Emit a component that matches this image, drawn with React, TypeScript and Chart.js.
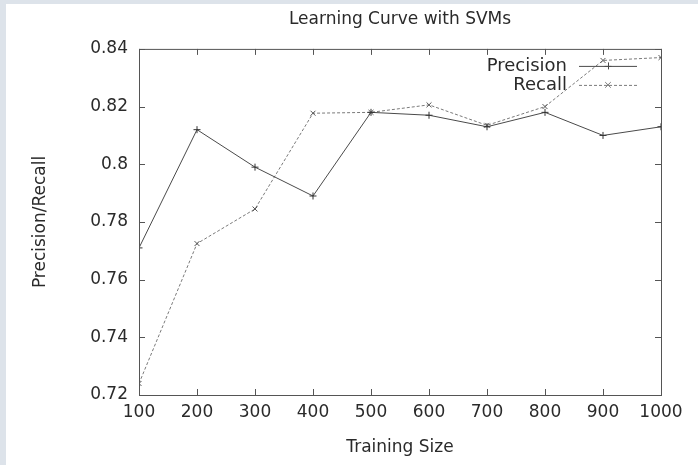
import React, { useEffect, useRef } from "react";
import { Chart, registerables } from "chart.js";

Chart.register(...registerables);

const trainingSizes = [100, 200, 300, 400, 500, 600, 700, 800, 900, 1000];
const precisionValues = [0.771, 0.812, 0.799, 0.789, 0.818, 0.817, 0.813, 0.818, 0.810, 0.813];
const recallValues = [0.724, 0.7725, 0.7845, 0.8177, 0.818, 0.8206, 0.8135, 0.820, 0.836, 0.837];
const yTickValues = [0.72, 0.74, 0.76, 0.78, 0.8, 0.82, 0.84];

const FONT = "'DejaVu Sans', sans-serif";
const TEXT = "#2a2a2a";
const AXIS = "#555";

const frameAndTicks = {
  id: "frameAndTicks",
  afterDatasetsDraw(chart: any) {
    const { ctx, chartArea: a, scales } = chart;
    const xs = scales.x;
    const ys = scales.y;
    ctx.save();
    ctx.strokeStyle = AXIS;
    ctx.lineWidth = 1;
    ctx.strokeRect(a.left + 0.5, a.top + 0.5, a.right - a.left, a.bottom - a.top);
    const len = 6;
    ctx.beginPath();
    trainingSizes.forEach((v) => {
      const px = Math.round(xs.getPixelForValue(v)) + 0.5;
      ctx.moveTo(px, a.bottom);
      ctx.lineTo(px, a.bottom - len);
      ctx.moveTo(px, a.top);
      ctx.lineTo(px, a.top + len);
    });
    yTickValues.forEach((v) => {
      const py = Math.round(ys.getPixelForValue(v)) + 0.5;
      ctx.moveTo(a.left, py);
      ctx.lineTo(a.left + len, py);
      ctx.moveTo(a.right, py);
      ctx.lineTo(a.right - len, py);
    });
    ctx.stroke();

    // gnuplot-style key: text, then sample line with marker
    const items = chart.data.datasets;
    const textRight = a.right - 94;
    const lineStart = a.right - 82;
    const lineEnd = a.right - 24;
    items.forEach((ds: any, i: number) => {
      const y = a.top + 17 + i * 19;
      ctx.font = `18px ${FONT}`;
      ctx.fillStyle = TEXT;
      ctx.textAlign = "right";
      ctx.textBaseline = "middle";
      ctx.fillText(ds.label, textRight, y);
      ctx.strokeStyle = ds.borderColor;
      ctx.lineWidth = 1;
      ctx.setLineDash(ds.borderDash || []);
      ctx.beginPath();
      ctx.moveTo(lineStart, y + 0.5);
      ctx.lineTo(lineEnd, y + 0.5);
      ctx.stroke();
      ctx.setLineDash([]);
      const mx = (lineStart + lineEnd) / 2;
      const r = 3.5;
      ctx.beginPath();
      if (ds.pointStyle === "cross") {
        ctx.moveTo(mx - r, y + 0.5);
        ctx.lineTo(mx + r, y + 0.5);
        ctx.moveTo(mx + 0.5, y - r);
        ctx.lineTo(mx + 0.5, y + r);
      } else {
        ctx.moveTo(mx - r * 0.8, y - r * 0.8);
        ctx.lineTo(mx + r * 0.8, y + r * 0.8);
        ctx.moveTo(mx + r * 0.8, y - r * 0.8);
        ctx.lineTo(mx - r * 0.8, y + r * 0.8);
      }
      ctx.stroke();
    });
    ctx.restore();
  },
};

export default function App() {
  const ref = useRef<HTMLCanvasElement | null>(null);

  useEffect(() => {
    if (!ref.current) return;
    const chart = new Chart(ref.current, {
      type: "line",
      data: {
        datasets: [
          {
            label: "Precision",
            data: trainingSizes.map((x, i) => ({ x, y: precisionValues[i] })),
            borderColor: "#4a4a4a",
            borderWidth: 1,
            pointStyle: "cross",
            pointRadius: 3.5,
            pointBorderColor: "#333",
            pointBorderWidth: 1,
            fill: false,
            tension: 0,
          },
          {
            label: "Recall",
            data: trainingSizes.map((x, i) => ({ x, y: recallValues[i] })),
            borderColor: "#7a7a7a",
            borderWidth: 1,
            borderDash: [3, 2],
            pointStyle: "crossRot",
            pointRadius: 3.5,
            pointBorderColor: "#555",
            pointBorderWidth: 1,
            fill: false,
            tension: 0,
          },
        ],
      },
      options: {
        responsive: false,
        animation: false,
        layout: { padding: { left: 0, right: 37, top: 0, bottom: 0 } },
        plugins: {
          legend: { display: false },
          tooltip: { enabled: false },
          title: {
            display: true,
            text: "Learning Curve with SVMs",
            fullSize: false,
            color: TEXT,
            font: { family: FONT, size: 17, weight: "normal" },
            padding: { top: 5.5, bottom: 19 },
          },
        },
        scales: {
          x: {
            type: "linear",
            min: 100,
            max: 1000,
            grid: { display: false, drawTicks: false },
            border: { display: false },
            afterFit: (s: any) => {
              s.height = 70;
            },
            ticks: {
              stepSize: 100,
              padding: 7,
              color: TEXT,
              font: { family: FONT, size: 17 },
              maxRotation: 0,
              callback: (v: any) => String(v),
            },
            title: {
              display: true,
              text: "Training Size",
              color: TEXT,
              font: { family: FONT, size: 17 },
              padding: { top: 0, bottom: 7.5 },
            },
          },
          y: {
            type: "linear",
            min: 0.72,
            max: 0.84,
            grid: { display: false, drawTicks: false },
            border: { display: false },
            afterFit: (s: any) => {
              s.width = 133;
            },
            afterBuildTicks: (s: any) => {
              s.ticks = yTickValues.map((v) => ({ value: v }));
            },
            ticks: {
              padding: 11,
              color: TEXT,
              font: { family: FONT, size: 17 },
              callback: (v: any) => String(Number(Number(v).toFixed(2))),
            },
            title: {
              display: true,
              text: "Precision/Recall",
              color: TEXT,
              font: { family: FONT, size: 17 },
              padding: { top: 24, bottom: 0 },
            },
          },
        },
      },
      plugins: [frameAndTicks],
    });
    return () => chart.destroy();
  }, []);

  return (
    <div
      style={{
        position: "fixed",
        left: 0,
        top: 0,
        width: 698,
        height: 465,
        background: "#dde3ea",
      }}
    >
      <div
        style={{
          position: "absolute",
          left: 6,
          top: 4,
          width: 692,
          height: 461,
          background: "#ffffff",
        }}
      >
        <canvas ref={ref} width={692} height={461} style={{ display: "block" }} />
      </div>
    </div>
  );
}
